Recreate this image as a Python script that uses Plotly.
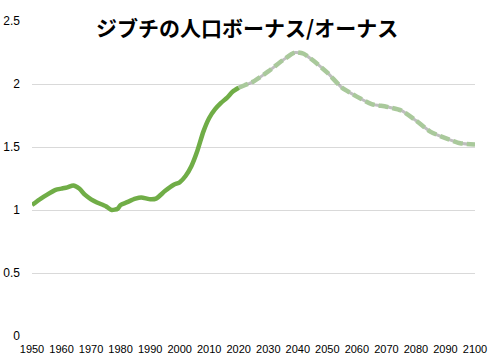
import plotly.graph_objects as go

title_text = "ジブチの人口ボーナス/オーナス"

years_actual = [1950, 1953, 1955, 1958, 1960, 1962, 1964, 1966, 1968, 1970, 1972, 1975, 1977, 1979,
                1980, 1982, 1985, 1987, 1989, 1990, 1992, 1995, 1998, 2000, 2002, 2004, 2006, 2008,
                2010, 2012, 2014, 2016, 2018, 2020]
values_actual = [1.04, 1.09, 1.12, 1.16, 1.17, 1.18, 1.195, 1.17, 1.12, 1.085, 1.06, 1.03, 1.0, 1.01,
                 1.04, 1.06, 1.09, 1.10, 1.09, 1.085, 1.09, 1.15, 1.20, 1.22, 1.27, 1.35, 1.47, 1.62,
                 1.73, 1.80, 1.85, 1.89, 1.94, 1.97]

years_proj = [2020, 2022, 2025, 2030, 2035, 2039, 2042, 2045, 2050, 2055, 2060, 2065, 2070, 2075,
              2080, 2085, 2090, 2095, 2100]
values_proj = [1.97, 1.99, 2.02, 2.10, 2.19, 2.25, 2.24, 2.19, 2.09, 1.97, 1.90, 1.84, 1.82, 1.79,
               1.71, 1.62, 1.57, 1.53, 1.52]

x_ticks = list(range(1950, 2101, 10))
y_ticks = [0, 0.5, 1, 1.5, 2, 2.5]
y_tick_labels = ["0", "0.5", "1", "1.5", "2", "2.5"]

fig = go.Figure()
# soft grey shadow under the projected dashes
fig.add_trace(go.Scatter(x=years_proj, y=values_proj, mode="lines",
                         line=dict(color="rgba(110,110,110,0.45)", width=3, shape="spline", smoothing=0.6),
                         hoverinfo="skip", showlegend=False))
fig.add_trace(go.Scatter(x=years_proj, y=values_proj, mode="lines",
                         line=dict(color="#a9c99b", width=4.5, dash="10px,4px", shape="spline", smoothing=0.6),
                         hoverinfo="skip", showlegend=False))
fig.add_trace(go.Scatter(x=years_actual, y=values_actual, mode="lines",
                         line=dict(color="#70ad47", width=4.5, shape="spline", smoothing=0.6),
                         hoverinfo="skip", showlegend=False))

fig.update_layout(
    width=493, height=360,
    margin=dict(l=32, r=18, t=21, b=24),
    paper_bgcolor="white", plot_bgcolor="white",
    font=dict(family="Liberation Sans", size=11, color="#404040"),
    xaxis=dict(range=[1950, 2100], tickvals=x_ticks, showgrid=False, zeroline=False,
               showline=False, ticks="", tickfont=dict(size=11, color="#000000"),
               ticklabelstandoff=5, automargin=False),
    yaxis=dict(range=[0, 2.5], tickvals=y_ticks, ticktext=y_tick_labels, showgrid=True,
               gridcolor="#d9d9d9", gridwidth=1, zeroline=False, showline=False, ticks="",
               tickfont=dict(size=12, color="#000000"), ticklabelstandoff=11, automargin=False),
    annotations=[dict(text="<b>" + title_text + "</b>", xref="paper", yref="paper",
                      x=0.485, y=0.982, xanchor="center", yanchor="middle", showarrow=False,
                      bgcolor="white", borderpad=1,
                      font=dict(family="Noto Sans CJK JP", size=21, color="#000000"))],
)

fig.write_html("out.html", config={"displayModeBar": False},
               post_script="document.body.style.margin='0';")
